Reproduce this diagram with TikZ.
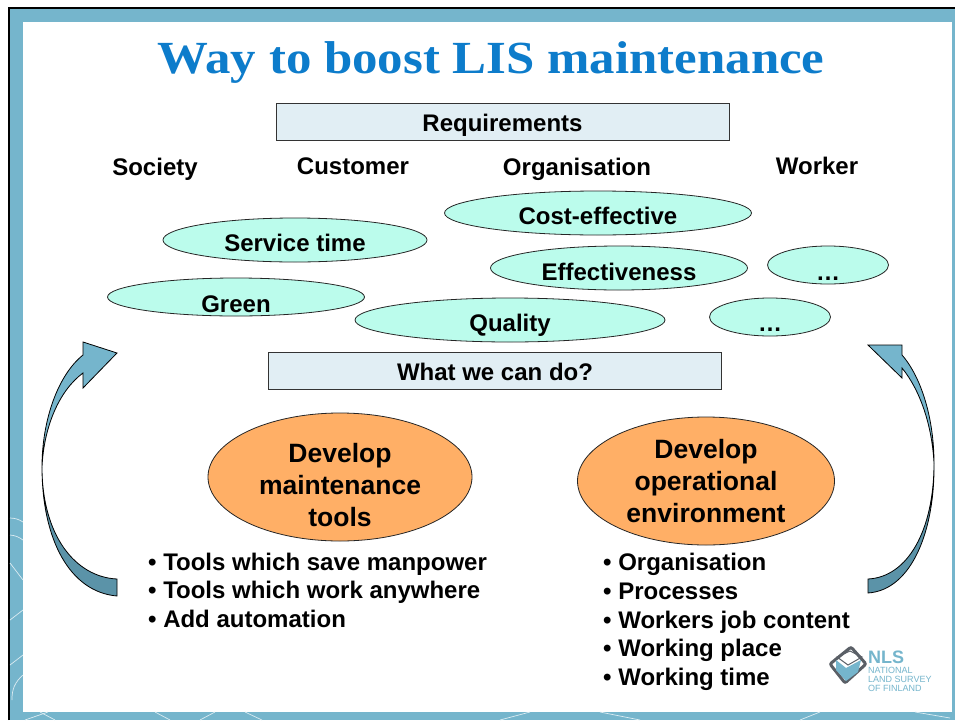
\documentclass[tikz,border=0pt]{standalone}
\usepackage{fontspec}
\setmainfont{Liberation Sans}
\newfontfamily\titlefont[FakeStretch=1.106]{Liberation Serif}
\usetikzlibrary{shapes,positioning}

\definecolor{bandblue}{HTML}{75B5CC}
\definecolor{titleblue}{HTML}{0D7CCB}
\definecolor{boxblue}{HTML}{E1EEF4}
\definecolor{mint}{HTML}{BBFCEC}
\definecolor{peach}{HTML}{FFAF66}
\definecolor{arrowdark}{HTML}{5B93A8}
\definecolor{logogrey}{HTML}{5A5F66}

% baseline sits #1 below the centre of the node
\newcommand{\lowered}[2]{\raisebox{-#1pt}[0pt][0pt]{#2}}

\tikzset{
    reqbox/.style={draw=black!80, line width=0.8pt, fill=boxblue, minimum width=453pt, minimum height=37pt, inner sep=0pt, font=\fontsize{24}{28}\selectfont\bfseries},
    group/.style={inner sep=0pt, font=\fontsize{24}{28}\selectfont\bfseries},
    aim/.style={draw=black!85, line width=0.8pt, fill=mint, ellipse, inner sep=0pt, font=\fontsize{24}{28}\selectfont\bfseries},
    action/.style={draw=black!85, line width=0.8pt, fill=peach, ellipse, inner sep=0pt, align=center, font=\fontsize{26.5}{32}\selectfont\bfseries},
    actiontext/.style={inner sep=0pt, align=center, font=\fontsize{26.5}{32}\selectfont\bfseries},
    bullets/.style={inner sep=0pt, anchor=north west, align=left, font=\fontsize{24}{28.7}\selectfont\bfseries},
    paleline/.style={draw=white!75!bandblue, line width=0.7pt},
    logotext/.style={inner sep=0pt, anchor=west, text=bandblue},
    curved/.style={draw=black, line width=0.8pt},
}

\begin{document}
\begin{tikzpicture}[x=1pt,y=-1pt]
    \useasboundingbox (0,0) rectangle (955,720);
    \fill[white] (0,0) rectangle (955,720);

    % frame
    \fill[bandblue] (9,8) rectangle (955,720);
    \draw[black, line width=2pt] (9,720) -- (9,8) -- (955,8);
    \fill[white] (23,22) rectangle (952,712);
    \draw[paleline] (10,518) to[bend left=15] (23,522);
    \draw[paleline] (10,535) to[bend left=15] (23,540);
    \draw[paleline] (10,563) -- (23,580);
    \draw[paleline] (10,620) -- (23,610);
    \draw[paleline] (10,665) -- (23,655);
    \draw[paleline] (12,700) to[bend left=25] (23,675);
    \draw[paleline] (25,720) -- (48,712);
    \draw[paleline] (40,712) -- (55,720);
    \draw[paleline] (155,712) -- (170,720);
    \draw[paleline] (200,720) -- (215,712);
    \draw[paleline] (245,712) -- (262,720);
    \draw[paleline] (500,720) -- (530,712);
    \draw[paleline] (600,712) -- (640,720);
    \draw[paleline] (800,720) -- (820,712);
    \draw[paleline] (915,712) -- (950,718);

    % title
    \node[inner sep=0pt, text=titleblue, font=\titlefont\fontsize{46}{50}\selectfont\bfseries] (title) at (491,63) {Way to boost LIS maintenance};

    \node[reqbox] (req) at (502.5,121.5) {\lowered{10}{Requirements}};
    \node[reqbox] (can) at (495,371) {\lowered{9.6}{What we can do?}};

    \node[group] (society) at (155,167) {\lowered{8.1}{Society}};
    \node[group] (customer) at (353,166) {\lowered{8.6}{Customer}};
    \node[group] (organisation) at (577,167) {\lowered{8.1}{Organisation}};
    \node[group] (worker) at (817,166) {\lowered{8.6}{Worker}};

    \node[aim, minimum width=307pt, minimum height=44pt] (cost) at (598,213) {\lowered{11.6}{Cost-effective}};
    \node[aim, minimum width=264pt, minimum height=44pt] (service) at (295,240) {\lowered{11.6}{Service time}};
    \node[aim, minimum width=257pt, minimum height=44pt] (effect) at (619,268) {\lowered{12.6}{Effectiveness}};
    \node[aim, minimum width=121pt, minimum height=38pt] (dotsa) at (828,265) {\lowered{15}{\ldots}};
    \node[aim, minimum width=257pt, minimum height=38pt] (green) at (236,297) {\lowered{15.6}{Green}};
    \node[aim, minimum width=310pt, minimum height=44pt] (quality) at (510,320) {\lowered{11.1}{Quality}};
    \node[aim, minimum width=121pt, minimum height=38pt] (dotsb) at (770,317) {\lowered{14}{\ldots}};

    \node[action, minimum width=264pt, minimum height=128pt] (tools) at (340,477) {};
    \node[actiontext] (toolstext) at (340,485) {Develop\\maintenance\\tools};
    \node[action, minimum width=257pt, minimum height=128pt] (env) at (706,481) {Develop\\operational\\environment};

    \node[bullets] (toollist) at (148,552.5) {• Tools which save manpower\\• Tools which work anywhere\\• Add automation};
    \node[bullets] (envlist) at (603,553) {• Organisation\\• Processes\\• Workers job content\\• Working place\\• Working time};

    % left arrow
    \draw[curved, fill=arrowdark] (42,467) .. controls (42,535) and (75,577) .. (117,579) -- (117,596) .. controls (70,592) and (42,540) .. (42,467) -- cycle;
    \draw[curved, fill=bandblue] (42,467) .. controls (42,420) and (58,375) .. (83,355) -- (83,342) -- (117,353) -- (83,388) -- (83,373) .. controls (60,390) and (44,425) .. (42,467) -- cycle;

    % right arrow
    \draw[curved, fill=arrowdark] (934,463) .. controls (934,530) and (908,577) .. (868,579) -- (868,593) .. controls (912,590) and (935,530) .. (934,463) -- cycle;
    \draw[curved, fill=bandblue] (934,463) .. controls (934,420) and (922,378) .. (902,355) -- (902,345) -- (868,345) -- (902,378) -- (902,368) .. controls (920,390) and (932,425) .. (934,463) -- cycle;

    % logo
    \draw[logogrey, line width=3pt, rounded corners=2pt] (830,664) -- (851,647) -- (866,664) -- (845,683) -- cycle;
    \fill[bandblue] (836,660) -- (846,668) -- (861,660) -- (858,672) -- (846,681) -- (836,670) -- cycle;
    \draw[logogrey, line width=1pt] (837,657) -- (850,651) -- (862,657) -- (848,665) -- cycle;
    \node[logotext, font=\fontsize{18}{18}\selectfont\bfseries] (nls) at (868,657) {NLS};
    \node[logotext, font=\fontsize{9}{9}\selectfont, align=left] (nlsname) at (868,679) {NATIONAL\\LAND SURVEY\\OF FINLAND};
\end{tikzpicture}
\end{document}
